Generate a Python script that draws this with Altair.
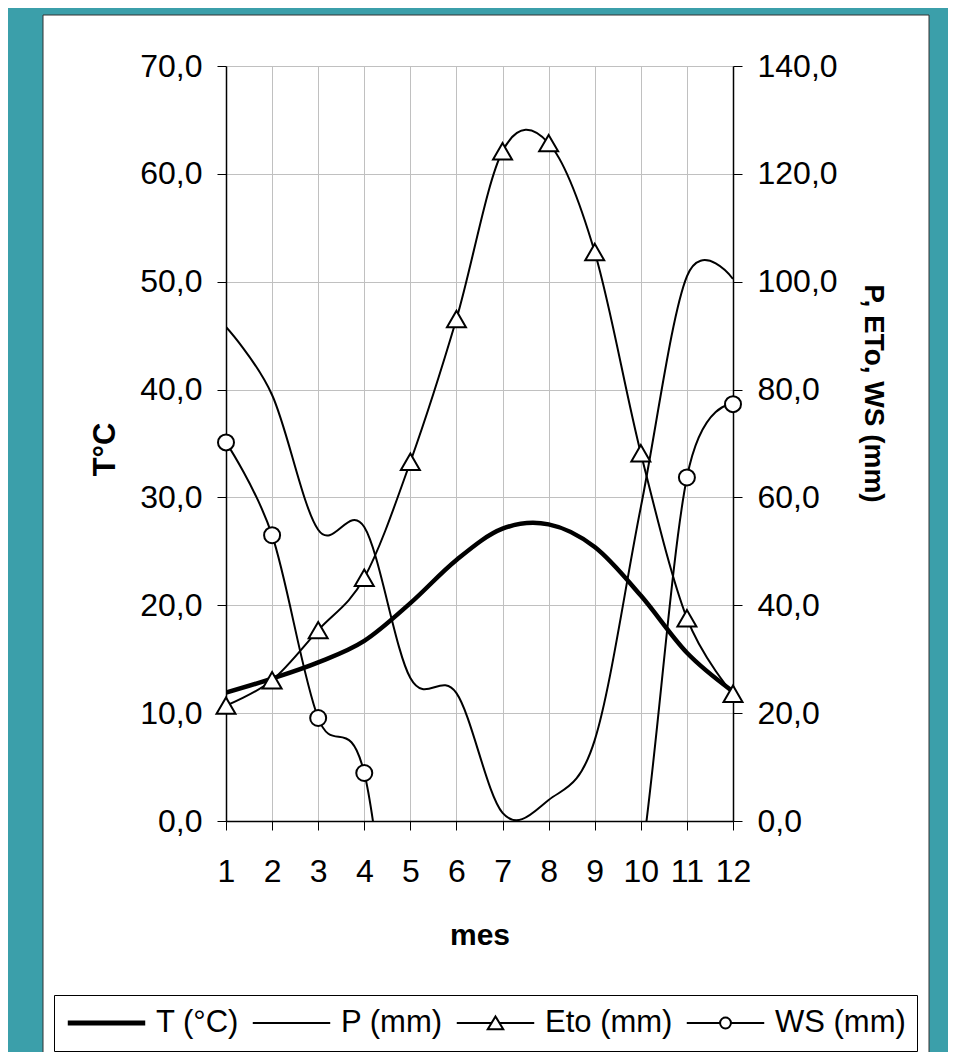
import altair as alt
import pandas as pd

# ---- data ----
months = list(range(1, 13))
temp_c = [11.9, 13.2, 14.7, 16.7, 20.2, 24.2, 27.1, 27.5, 25.4, 20.9, 15.6, 12.0]
precip_mm = [91.6, 79.0, 54.0, 54.5, 26.5, 23.7, 1.5, 3.9, 15.0, 58.2, 101.0, 100.5]
eto_mm = [21.4, 26.1, 35.4, 45.1, 66.6, 93.1, 124.2, 125.7, 105.5, 68.2, 37.6, 23.6]
ws_mm = [70.2, 53.0, 19.1, 8.9, -50.0, -50.0, -50.0, -50.0, -50.0, -8.0, 63.7, 77.3]

series_names = ["T (°C)", "P (mm)", "Eto (mm)", "WS (mm)"]
left_ticks = [0, 10, 20, 30, 40, 50, 60, 70]
right_ticks = [0, 20, 40, 60, 80, 100, 120, 140]

FONT = "Liberation Sans"
TEAL = "#3B9FAA"
GRID = "#c0c0c0"

t_df = pd.DataFrame({"mes": months, "valor": temp_c, "serie": series_names[0]})
mm_df = pd.concat(
    [
        pd.DataFrame({"mes": months, "valor": precip_mm, "serie": series_names[1]}),
        pd.DataFrame({"mes": months, "valor": eto_mm, "serie": series_names[2]}),
        pd.DataFrame({"mes": months, "valor": ws_mm, "serie": series_names[3]}),
    ],
    ignore_index=True,
)
# helper rows that only feed the legend (kept far outside the clipped plot area)
legend_df = pd.DataFrame({"mes": [1] * 4, "valor": [-1000] * 4, "serie": series_names})

comma = "replace(format(datum.value, '.1f'), '.', ',')"

axis_common = dict(
    labelFont=FONT, labelFontSize=32, labelColor="black",
    titleFont=FONT, titleFontWeight="bold", titleColor="black",
    domainColor="black", domainWidth=1.5, tickColor="black", tickSize=9, tickWidth=1,
    labelFlush=False, labelOverlap=False,
)

x_enc = alt.X(
    "mes:Q",
    scale=alt.Scale(domain=[1, 12], nice=False, zero=False),
    axis=alt.Axis(values=months, title="mes", titleFontSize=30, grid=True, gridColor=GRID,
                  labelPadding=26, titlePadding=33, **axis_common),
)
y_left = alt.Y(
    "valor:Q",
    scale=alt.Scale(domain=[0, 70], nice=False, zero=False),
    axis=alt.Axis(orient="left", values=left_ticks, labelExpr=comma, title="T°C",
                  titleFontSize=31, titleX=-105, titleY=383,
                  grid=True, gridColor=GRID, labelPadding=15, **axis_common),
)
y_right = alt.Y(
    "valor:Q",
    scale=alt.Scale(domain=[0, 140], nice=False, zero=False),
    axis=alt.Axis(orient="right", values=right_ticks, labelExpr=comma, title="P, ETo, WS (mm)",
                  titleFontSize=28, titleX=125, titleY=327,
                  grid=False, labelPadding=15, **axis_common),
)

line_path = "M-1,0L1,0"
tri_path = "M-1,0L-0.1,0M0.1,0L1,0M0,-0.17L0.2,0.16L-0.2,0.16Z"
circ_path = "M-1,0L-0.14,0M0.14,0L1,0M-0.14,0A0.14,0.14,0,1,1,0.14,0A0.14,0.14,0,1,1,-0.14,0Z"

legend = alt.Legend(
    title=None, orient="none", legendX=-172, legendY=929, direction="horizontal",
    columns=4, strokeColor="black", fillColor="white", padding=11, columnPadding=11,
    labelFont=FONT, labelFontSize=31, labelColor="black", labelOffset=8,
    symbolSize=6000, clipHeight=34, symbolFillColor="white",
)

t_layer = alt.Chart(t_df).mark_line(
    interpolate="cardinal", clip=True, strokeWidth=4.5, color="black"
).encode(x=x_enc, y=y_left)

mm_lines = alt.Chart(mm_df).mark_line(
    interpolate="cardinal", clip=True, strokeWidth=2, color="black"
).encode(x=x_enc, y=y_right, detail="serie:N")

eto_pts = (
    alt.Chart(mm_df)
    .transform_filter(f"datum.serie === '{series_names[2]}' && datum.valor >= 0")
    .mark_point(shape="triangle-up", size=360, filled=True, fill="white", stroke="black",
                strokeWidth=2, opacity=1)
    .encode(x=x_enc, y=y_right)
)
ws_pts = (
    alt.Chart(mm_df)
    .transform_filter(f"datum.serie === '{series_names[3]}' && datum.valor >= 0")
    .mark_point(shape="circle", size=256, filled=True, fill="white", stroke="black",
                strokeWidth=2, opacity=1)
    .encode(x=x_enc, y=y_right)
)
legend_layer = alt.Chart(legend_df).mark_point(clip=True, size=6000, opacity=1).encode(
    x=x_enc,
    y=y_right,
    shape=alt.Shape("serie:N", scale=alt.Scale(domain=series_names,
                    range=[line_path, line_path, tri_path, circ_path]), legend=legend),
    strokeWidth=alt.StrokeWidth("serie:N", scale=alt.Scale(type="ordinal", domain=series_names,
                                range=[5, 2, 2, 2]), legend=legend),
    color=alt.Color("serie:N", scale=alt.Scale(domain=series_names, range=["black"] * 4),
                    legend=legend),
)
mm_layer = alt.layer(mm_lines, eto_pts, ws_pts, legend_layer)

deco_df = pd.DataFrame({"k": [0]})
frame = alt.Chart(deco_df).mark_rect(filled=False, stroke=TEAL, strokeWidth=200).encode(
    x=alt.value(-283), x2=alt.value(803), y=alt.value(-151), y2=alt.value(1092)
)
border = alt.Chart(deco_df).mark_rect(filled=False, stroke="#333333", strokeWidth=1).encode(
    x=alt.value(-183), x2=alt.value(703), y=alt.value(-51), y2=alt.value(992)
)

chart = (
    alt.layer(t_layer, mm_layer, frame, border)
    .resolve_scale(y="independent")
    .properties(
        width=507, height=755,
        padding={"left": 218, "top": 58, "right": 215, "bottom": 231},
        autosize=alt.AutoSizeParams(type="none"),
    )
    .configure(background="white")
    .configure_view(stroke="transparent")
)

chart.save("out.html", embed_options={"renderer": "svg", "actions": False})
